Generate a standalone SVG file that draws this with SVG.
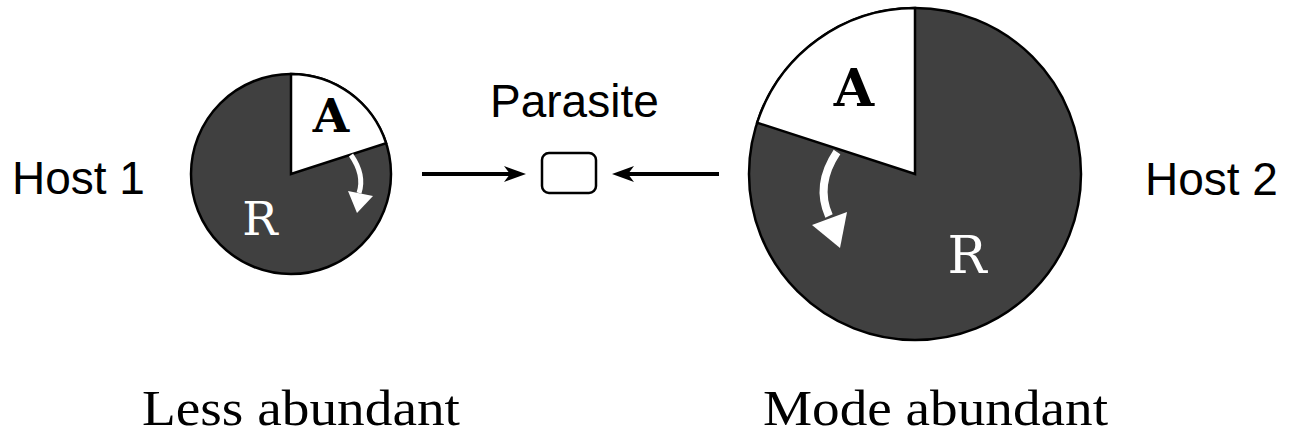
<svg xmlns="http://www.w3.org/2000/svg" width="1290" height="434" viewBox="0 0 1290 434">
<style>
.sans{font-family:"Liberation Sans",Arial,sans-serif;font-size:46px;fill:#000}
.serif{font-family:"Liberation Serif","Times New Roman",serif;font-size:50px;fill:#000}
.mono{font-family:"DejaVu Serif","Liberation Serif",serif;text-anchor:middle}
.pie{fill:#404040;stroke:#000;stroke-width:2.5}
.slice{fill:#fff;stroke:#000;stroke-width:2.5;stroke-linejoin:miter}
.conn{stroke:#000;stroke-width:4;fill:none}
</style>
<defs>
<marker id="ah" viewBox="0 0 22 16" refX="6" refY="8" markerWidth="22" markerHeight="16" markerUnits="userSpaceOnUse" orient="auto">
<path d="M0,0 L22,8 L0,16 L6,8 Z" fill="#000"/>
</marker>
</defs>
<rect width="1290" height="434" fill="#fff"/>
<g id="host1">
<circle class="pie" cx="291" cy="174" r="100"/>
<path class="slice" d="M291,174 L291,74 A100,100 0 0 1 386.1,143.1 Z"/>
<text class="mono" x="331" y="132" font-size="47" font-weight="bold" fill="#000">A</text>
<text class="mono" x="260" y="235" font-size="47" fill="#fff">R</text>
<path d="M351,155 Q365,175 359,193" stroke="#fff" stroke-width="5" fill="none"/>
<polygon points="348,191 373,196 357,213" fill="#fff"/>
</g>
<g id="host2">
<circle class="pie" cx="915" cy="174" r="166"/>
<path class="slice" d="M915,174 L915,8 A166,166 0 0 0 757.1,122.7 Z"/>
<text class="mono" x="854" y="106" font-size="52" font-weight="bold" fill="#000">A</text>
<text class="mono" x="967" y="273" font-size="52" fill="#fff">R</text>
<path d="M837,152 Q815,185 829,216" stroke="#fff" stroke-width="8" fill="none"/>
<polygon points="812,225 847,212 840,248" fill="#fff"/>
</g>
<g id="parasite">
<rect x="542" y="153" width="54" height="40" rx="7" fill="#fff" stroke="#000" stroke-width="2.5"/>
<text class="sans" x="490" y="117">Parasite</text>
</g>
<g id="labels">
<text class="sans" x="12" y="194">Host 1</text>
<text class="sans" x="1145" y="195">Host 2</text>
<text class="serif" x="142" y="425" textLength="318" lengthAdjust="spacingAndGlyphs">Less abundant</text>
<text class="serif" x="763" y="425" textLength="345" lengthAdjust="spacingAndGlyphs">Mode abundant</text>
</g>
<g id="connectors">
<line class="conn" x1="422" y1="174" x2="510" y2="174" marker-end="url(#ah)"/>
<line class="conn" x1="719" y1="174" x2="628" y2="174" marker-end="url(#ah)"/>
</g>
</svg>
